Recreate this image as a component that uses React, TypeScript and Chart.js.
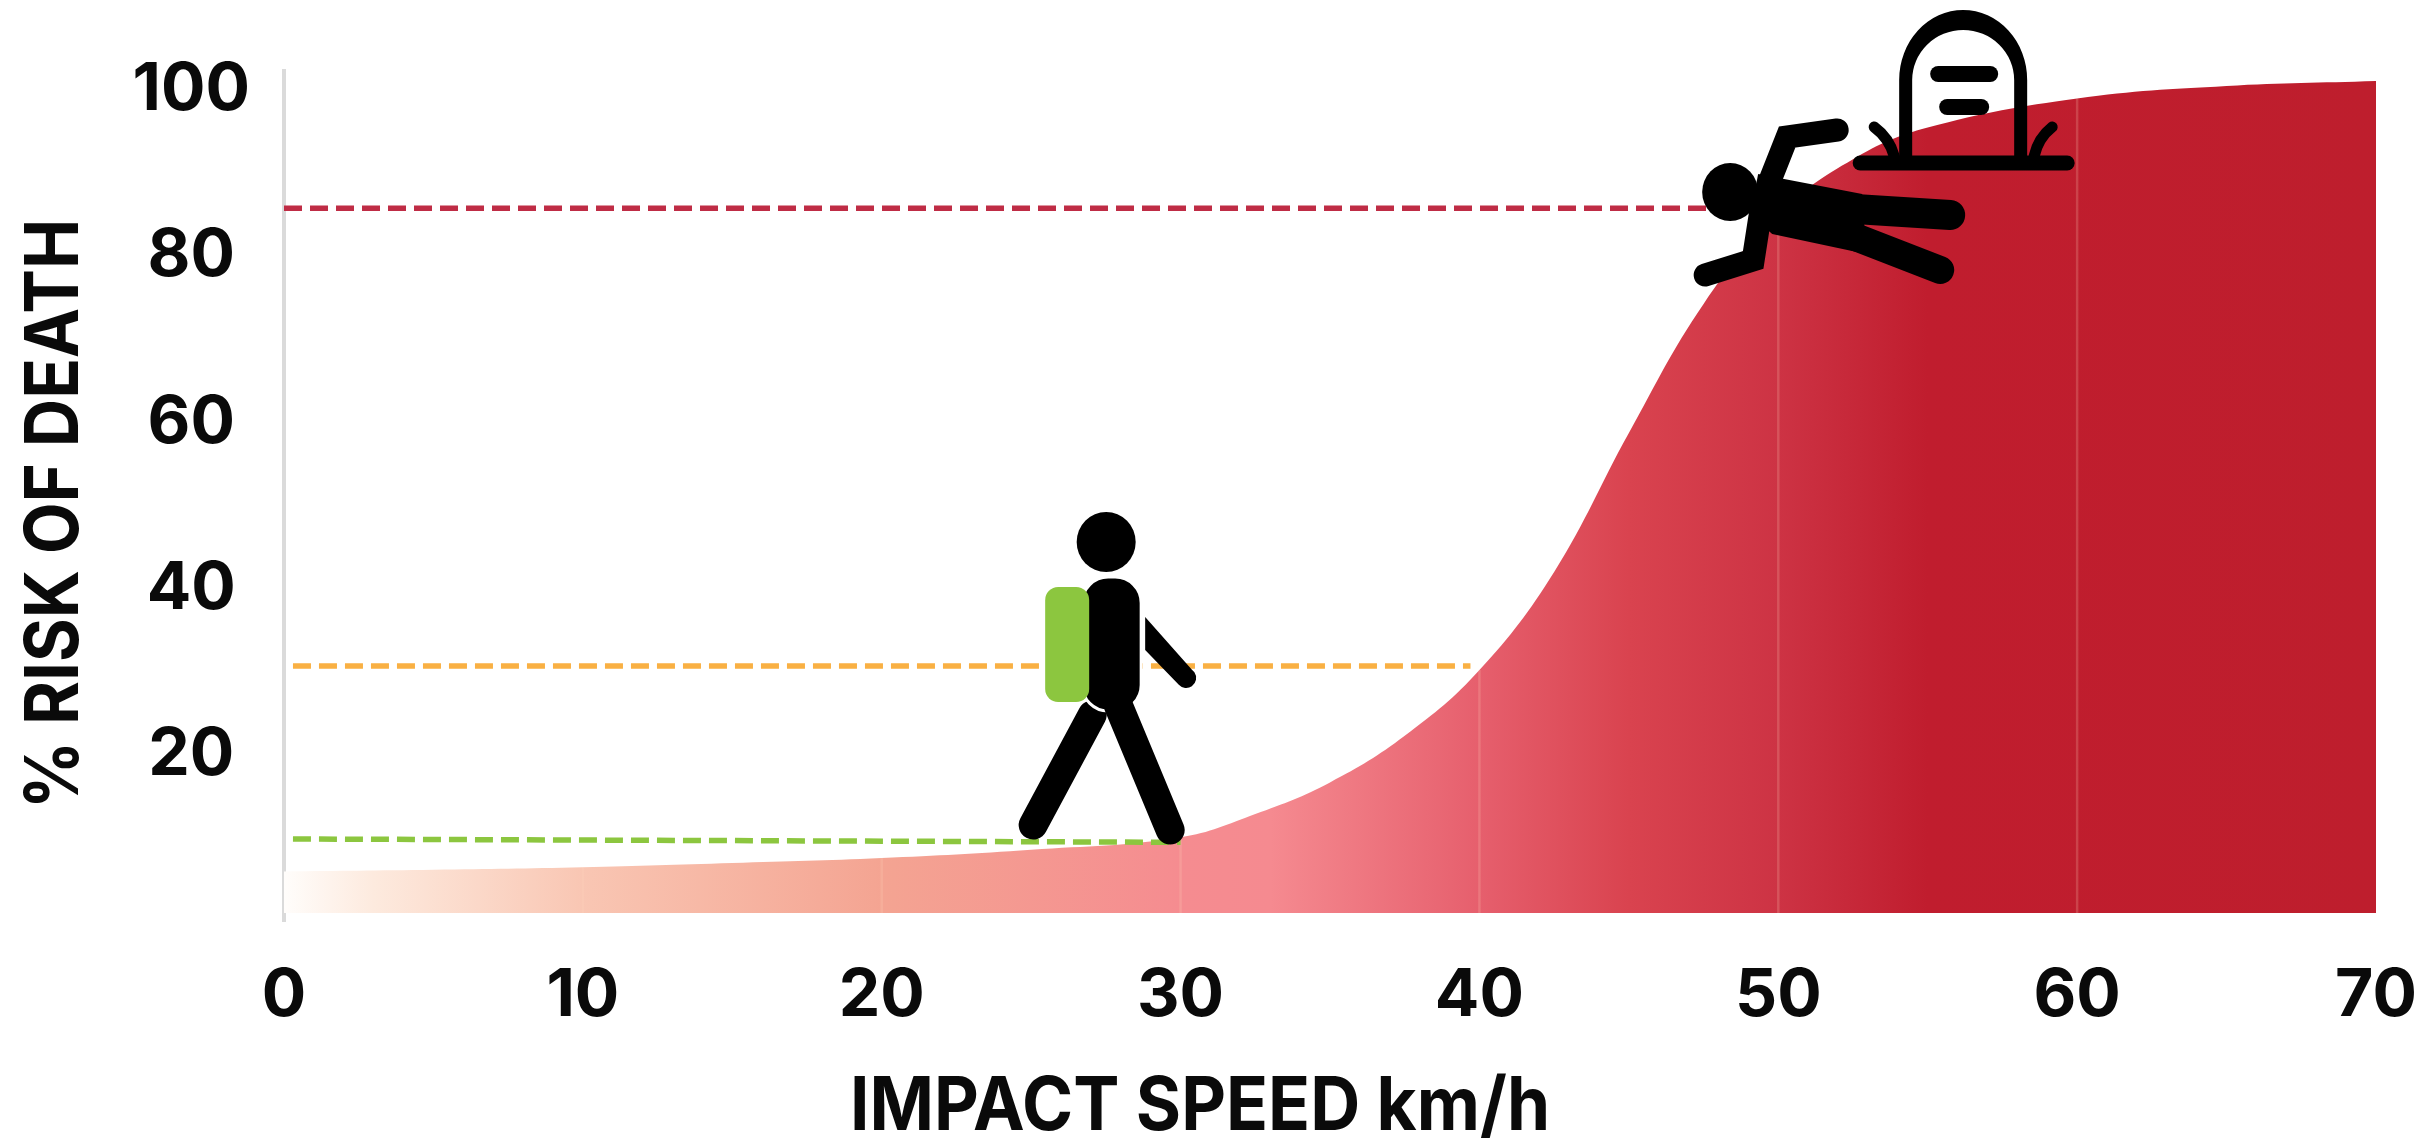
import React, { useEffect, useRef } from "react";
import { Chart, registerables } from "chart.js";

Chart.register(...registerables);

const speeds = [0, 5, 10, 15, 20, 25, 30, 32.5, 35, 37.5, 40, 42.5, 45, 47.5, 50, 52.5, 55, 60, 65, 70];
const risk = [5.0, 5.2, 5.5, 6.0, 6.6, 7.6, 9.1, 11.9, 15.7, 21.3, 29.2, 41.0, 57.7, 73.2, 84.0, 90.6, 94.4, 97.9, 99.4, 100];
const gridSpeeds = [10, 20, 30, 40, 50, 60];
const yTicks = [20, 40, 60, 80, 100];
const xTicks = [0, 10, 20, 30, 40, 50, 60, 70];

const redLineX = [0, 48];
const redLineY = [84.7, 84.7];
const orangeLineX = [0.3, 39.7];
const orangeLineY = [29.7, 29.7];
const greenLineX = [0.3, 30];
const greenLineY = [8.9, 8.5];

const gradientSpeeds = [0, 3, 10, 20, 30, 33, 40, 45, 50, 55, 70];
const gradientColors = ["#fffdfb", "#fdeade", "#f9c6b3", "#f4a492", "#f58c90", "#f58a90", "#e65f6d", "#d9434f", "#cd3344", "#c01d2e", "#be1e2d"];

const xTitle = "IMPACT SPEED km/h";
const yTitle = "% RISK OF DEATH";
const FONT = "Inter, 'Noto Sans', sans-serif";

function stroke(ctx: CanvasRenderingContext2D, pts: number[][], width: number, cap: CanvasLineCap = "round", join: CanvasLineJoin = "miter") {
  ctx.beginPath();
  pts.forEach((p, i) => (i ? ctx.lineTo(p[0], p[1]) : ctx.moveTo(p[0], p[1])));
  ctx.lineWidth = width;
  ctx.lineCap = cap;
  ctx.lineJoin = join;
  ctx.stroke();
}

function roundRect(ctx: CanvasRenderingContext2D, x: number, y: number, w: number, h: number, r: number) {
  ctx.beginPath();
  ctx.roundRect(x, y, w, h, r);
}

function drawWalker(ctx: CanvasRenderingContext2D, dx: number, dy: number) {
  ctx.save();
  ctx.translate(dx, dy);
  ctx.fillStyle = "#000";
  ctx.strokeStyle = "#000";
  stroke(ctx, [[1092, 715], [1033, 825]], 29);
  roundRect(ctx, 1082, 577, 59, 134, 26);
  ctx.fill();
  ctx.strokeStyle = "#fff";
  ctx.lineWidth = 3;
  ctx.stroke();
  ctx.strokeStyle = "#000";
  stroke(ctx, [[1118, 705], [1170, 830]], 29);
  ctx.fillStyle = "#000";
  ctx.beginPath();
  ctx.ellipse(1106, 542, 29.5, 30, 0, 0, Math.PI * 2);
  ctx.fill();
  roundRect(ctx, 1045, 587, 44, 115, 13);
  ctx.fillStyle = "#8cc63f";
  ctx.fill();
  ctx.fillStyle = "#000";
  ctx.beginPath();
  ctx.moveTo(1145, 617);
  ctx.lineTo(1192, 670);
  ctx.arc(1186, 678, 10, -0.6, 2.4);
  ctx.lineTo(1145, 650);
  ctx.closePath();
  ctx.fill();
  ctx.restore();
}

function drawFallen(ctx: CanvasRenderingContext2D, dx: number, dy: number) {
  ctx.save();
  ctx.translate(dx, dy);
  ctx.fillStyle = "#000";
  ctx.strokeStyle = "#000";
  ctx.beginPath();
  ctx.ellipse(1730, 192, 28, 29, 0, 0, Math.PI * 2);
  ctx.fill();
  ctx.beginPath();
  ctx.moveTo(1758, 174);
  ctx.lineTo(1862, 194);
  ctx.lineTo(1866, 254);
  ctx.lineTo(1772, 234);
  ctx.lineTo(1750, 214);
  ctx.closePath();
  ctx.fill();
  stroke(ctx, [[1855, 209], [1950, 215]], 30);
  stroke(ctx, [[1855, 237], [1940, 270]], 28);
  stroke(ctx, [[1768, 185], [1787, 137], [1837, 130]], 23);
  stroke(ctx, [[1760, 215], [1753, 260], [1705, 275]], 23);
  ctx.restore();
}

function drawStone(ctx: CanvasRenderingContext2D, dx: number, dy: number) {
  ctx.save();
  ctx.translate(dx, dy);
  ctx.fillStyle = "#000";
  ctx.strokeStyle = "#000";
  ctx.beginPath();
  ctx.moveTo(1899, 160);
  ctx.lineTo(1899, 80);
  ctx.ellipse(1963, 80, 64, 70, 0, Math.PI, 0);
  ctx.lineTo(2027, 160);
  ctx.closePath();
  ctx.moveTo(1912, 160);
  ctx.lineTo(1912, 80);
  ctx.ellipse(1963, 80, 51, 50, 0, Math.PI, 0);
  ctx.lineTo(2014, 160);
  ctx.closePath();
  ctx.fill("evenodd");
  stroke(ctx, [[1860, 163], [2067, 163]], 15);
  stroke(ctx, [[1938, 74], [1990, 74]], 16);
  stroke(ctx, [[1947, 107], [1981, 107]], 16);
  ctx.lineWidth = 11;
  ctx.lineCap = "round";
  ctx.beginPath();
  ctx.moveTo(1894, 156);
  ctx.quadraticCurveTo(1889, 138, 1874, 127);
  ctx.moveTo(2034, 156);
  ctx.quadraticCurveTo(2038, 138, 2052, 127);
  ctx.stroke();
  ctx.restore();
}

const overlayPlugin = {
  id: "overlay",
  afterDraw(chart: any) {
    const { ctx, scales } = chart;
    const sx = scales.x;
    const sy = scales.y;
    const dx = sx.getPixelForValue(30) - 1180.4;
    const dy = sy.getPixelForValue(0) - 913;
    drawWalker(ctx, dx, dy);
    drawStone(ctx, dx, dy);
    drawFallen(ctx, dx, dy);

    ctx.save();
    ctx.fillStyle = "#0a0a0a";
    ctx.font = `700 74px ${FONT}`;
    ctx.textAlign = "center";
    ctx.textBaseline = "middle";
    ctx.fillText(xTitle, 1200, 1108, 700);
    ctx.translate(54, 514);
    ctx.rotate(-Math.PI / 2);
    ctx.fillText(yTitle, 0, 2, 590);
    ctx.restore();
  },
};

export default function App() {
  const ref = useRef<HTMLCanvasElement>(null);
  useEffect(() => {
    const canvas = ref.current!;
    const fill = (c: any) => {
      const { chart } = c;
      if (!chart.chartArea) return "#c01d2e";
      const x = chart.scales.x;
      const g = chart.ctx.createLinearGradient(x.getPixelForValue(0), 0, x.getPixelForValue(70), 0);
      gradientSpeeds.forEach((s, i) => g.addColorStop(s / 70, gradientColors[i]));
      return g;
    };
    const pairs = (xs: number[], ys: number[]) => xs.map((x, i) => ({ x, y: ys[i] }));
    const dashed = (xs: number[], ys: number[], color: string) => ({
      type: "line" as const,
      data: pairs(xs, ys),
      borderColor: color,
      borderWidth: 5.5,
      borderDash: [18, 8],
      pointRadius: 0,
      fill: false,
      tension: 0,
      order: 1,
    });
    const chart = new Chart(canvas, {
      type: "line",
      data: {
        datasets: [
          {
            data: pairs(speeds, risk),
            borderWidth: 0,
            pointRadius: 0,
            fill: "origin",
            tension: 0.4,
            backgroundColor: fill,
            order: 10,
          } as any,
          ...gridSpeeds.map((s) => ({
            data: [
              { x: s, y: 0 },
              { x: s, y: risk[speeds.indexOf(s)] },
            ],
            borderColor: "rgba(255,215,190,0.2)",
            borderWidth: 2.5,
            pointRadius: 0,
            fill: false,
            order: 5,
          })),
          dashed(redLineX, redLineY, "#bf2c45"),
          dashed(orangeLineX, orangeLineY, "#f9b043"),
          dashed(greenLineX, greenLineY, "#8cc63f"),
        ],
      },
      options: {
        responsive: false,
        animation: false,
        parsing: false as any,
        normalized: true,
        layout: { padding: { top: 71, right: 59, left: 0, bottom: 0 } },
        plugins: { legend: { display: false }, tooltip: { enabled: false }, title: { display: false } },
        scales: {
          x: {
            type: "linear",
            min: 0,
            max: 70,
            grid: { display: false, drawTicks: false },
            border: { display: false },
            afterBuildTicks: (s: any) => {
              s.ticks = xTicks.map((value) => ({ value }));
            },
            afterFit: (s: any) => {
              s.height = 1148 - 921;
              s.paddingRight = 0;
              s.paddingLeft = 0;
            },
            ticks: {
              autoSkip: false,
              maxRotation: 0,
              padding: 36,
              color: "#0a0a0a",
              font: { family: FONT, weight: 700, size: 66 },
            },
          },
          y: {
            type: "linear",
            min: -0.96,
            max: 101.2,
            grid: { display: false, drawTicks: false },
            border: { display: true, color: "#dadada", width: 4 },
            afterBuildTicks: (s: any) => {
              s.ticks = yTicks.map((value) => ({ value }));
            },
            afterFit: (s: any) => {
              s.width = 284;
              s.paddingTop = 0;
              s.paddingBottom = 0;
            },
            ticks: {
              padding: 34,
              crossAlign: "center",
              labelOffset: 9,
              color: "#0a0a0a",
              font: { family: FONT, weight: 700, size: 66 },
            },
          },
        },
      },
      plugins: [overlayPlugin],
    });
    return () => chart.destroy();
  }, []);
  return (
    <div style={{ position: "fixed", left: 0, top: 0, width: 2435, height: 1148, background: "#fff" }}>
      <canvas ref={ref} width={2435} height={1148} style={{ display: "block", width: 2435, height: 1148 }} />
    </div>
  );
}
